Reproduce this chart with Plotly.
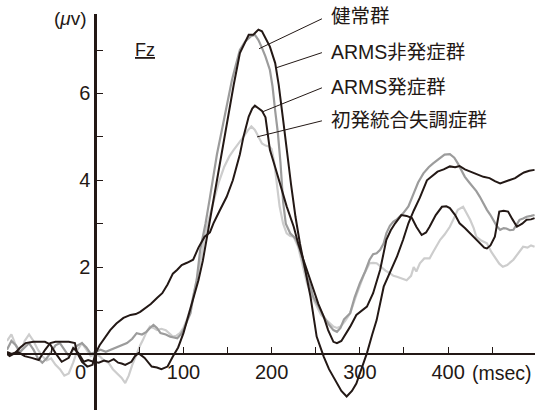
import plotly.graph_objects as go

INK = "#231815"

# ---------------- data (msec, microvolt) ----------------
nonconv_ms = [-100, -97, -91, -85, -79, -70, -62, -57, -51, -45, -38, -30, -25, -19, -13, -8, -2, 4, 10, 15,
              21, 26, 30, 34, 41, 45, 49, 56, 64, 70, 75, 82, 88, 94, 100, 106, 111, 117, 122, 128,
              134, 140, 145, 151, 157, 164, 170, 174, 179, 185, 189, 194, 198, 204, 208, 213, 217, 222, 227, 232,
              238, 244, 251, 259, 265, 272, 279, 285, 291, 296, 302, 308, 314, 319, 327, 332, 337, 342, 349, 355,
              361, 368, 376, 382, 388, 395, 402, 408, 413, 419, 425, 432, 440, 447, 453, 459, 465, 470, 476, 481,
              486, 492, 498]
nonconv_uv = [0.0, -0.05, 0.02, 0.15, 0.25, 0.28, 0.28, 0.28, 0.22, 0.02, -0.18, -0.09, 0.14, 0.02, -0.18, -0.14, -0.18, -0.2, -0.15, -0.18,
              -0.12, -0.2, -0.22, -0.25, -0.18, -0.05, 0.02, -0.09, -0.29, -0.31, -0.35, -0.29, -0.06, 0.15, 0.48, 0.9, 1.24, 1.7, 2.15, 2.85,
              3.55, 4.25, 4.85, 5.5, 6.2, 6.93, 7.2, 7.35, 7.35, 7.47, 7.43, 7.25, 7.08, 6.7, 6.2, 5.39, 4.7, 3.9, 3.16, 2.55,
              1.94, 1.32, 0.4, -0.06, -0.35, -0.6, -0.85, -0.98, -0.85, -0.68, -0.35, 0.02, 0.45, 0.78, 1.55, 1.78, 2.0, 2.24, 2.63, 3.01,
              3.3, 3.6, 4.0, 4.1, 4.2, 4.25, 4.32, 4.3, 4.33, 4.25, 4.2, 4.15, 4.08, 4.05, 3.98, 3.93, 3.97, 4.02, 4.05, 4.12,
              4.18, 4.22, 4.24]

conv_ms = [-100, -95, -88, -80, -72, -64, -57, -51, -45, -38, -30, -23, -21, -15, -9, -3, 0, 5, 10, 17,
           24, 32, 40, 46, 51, 57, 63, 70, 76, 82, 88, 93, 98, 104, 111, 117, 124, 130, 134, 141,
           149, 156, 164, 168, 174, 178, 181, 185, 189, 193, 198, 204, 210, 217, 225, 230, 236, 242, 247, 253,
           259, 264, 270, 274, 279, 284, 289, 296, 302, 308, 315, 319, 323, 330, 335, 340, 347, 353, 359, 364,
           370, 375, 379, 386, 393, 398, 402, 408, 413, 419, 425, 431, 436, 441, 444, 448, 453, 458, 463, 468,
           473, 478, 484, 489, 494, 498]
conv_uv = [0.05, 0.0, 0.05, -0.05, -0.09, -0.14, 0.09, 0.25, 0.28, 0.28, 0.28, 0.25, 0.05, -0.18, -0.29, -0.25, 0.0, 0.2, 0.35, 0.55,
           0.7, 0.83, 0.9, 0.92, 0.97, 1.05, 1.15, 1.29, 1.4, 1.6, 1.85, 1.94, 2.05, 2.1, 2.17, 2.45, 2.7, 2.8, 3.01, 3.3,
           3.62, 4.0, 4.6, 5.0, 5.47, 5.65, 5.72, 5.66, 5.6, 5.45, 4.7, 4.3, 3.9, 3.4, 2.93, 2.55, 2.17, 1.8, 1.47, 1.15,
           0.86, 0.55, 0.28, 0.25, 0.3, 0.45, 0.63, 0.9, 1.0, 1.09, 1.4, 1.65, 1.94, 2.63, 2.85, 3.01, 3.2, 3.18, 3.13, 2.93,
           2.74, 2.8, 2.93, 3.2, 3.39, 3.4, 3.36, 3.2, 3.01, 2.9, 2.78, 2.65, 2.55, 2.45, 2.43, 2.5, 2.7, 3.28, 3.3, 3.28,
           3.1, 2.93, 3.0, 3.09, 3.1, 3.13]

healthy_ms = [-100, -95, -90, -85, -80, -75, -70, -65, -60, -55, -50, -45, -40, -35, -30, -25, -20, -15, -10, -5,
              0, 6, 12, 17, 24, 30, 36, 42, 47, 53, 58, 62, 66, 70, 74, 80, 85, 89, 93, 97,
              100, 104, 108, 111, 115, 119, 122, 125, 130, 134, 138, 143, 149, 155, 160, 164, 170, 176, 181, 185,
              189, 193, 198, 201, 204, 207, 210, 213, 216, 221, 225, 228, 232, 236, 240, 244, 247, 253, 259, 264,
              270, 274, 278, 282, 289, 294, 300, 306, 311, 315, 319, 323, 327, 330, 334, 338, 342, 349, 355, 361,
              366, 372, 378, 383, 390, 396, 402, 407, 411, 415, 419, 424, 428, 432, 436, 440, 444, 448, 451, 455,
              459, 463, 466, 470, 474, 478, 481, 485, 489, 494, 498]
healthy_uv = [0.1, 0.3, 0.2, 0.05, 0.15, 0.25, 0.1, -0.1, -0.2, -0.1, 0.05, 0.2, 0.25, 0.1, -0.05, 0.1, 0.2, 0.25, 0.15, 0.0,
              0.05, 0.1, 0.05, 0.09, 0.15, 0.2, 0.25, 0.35, 0.48, 0.45, 0.51, 0.6, 0.67, 0.6, 0.48, 0.45, 0.4, 0.38, 0.36, 0.45,
              0.55, 0.75, 0.94, 1.3, 1.7, 2.4, 2.7, 3.0, 3.6, 4.1, 4.6, 5.1, 5.7, 6.31, 6.7, 7.0, 7.2, 7.31, 7.35, 7.23,
              7.05, 6.85, 6.54, 6.16, 5.6, 5.1, 4.4, 3.5, 3.0, 2.78, 2.7, 2.63, 2.4, 2.1, 1.78, 1.55, 1.32, 1.1, 0.86, 0.7,
              0.55, 0.51, 0.6, 0.8, 0.94, 1.3, 1.63, 1.9, 2.17, 2.3, 2.32, 2.4, 2.55, 2.78, 2.95, 3.05, 3.1, 3.24, 3.4, 3.7,
              3.95, 4.16, 4.3, 4.39, 4.5, 4.59, 4.6, 4.52, 4.39, 4.25, 4.08, 3.95, 3.85, 3.75, 3.62, 3.45, 3.32, 3.2, 3.09, 2.95,
              2.86, 2.9, 2.89, 2.85, 2.86, 3.0, 3.09, 3.12, 3.16, 3.18, 3.2]

firstep_ms = [-100, -95, -90, -85, -80, -75, -70, -65, -60, -55, -50, -45, -40, -35, -30, -25, -20, -15, -10, -5,
              0, 5, 10, 15, 20, 25, 30, 34, 38, 42, 47, 51, 54, 58, 62, 66, 70, 75, 80, 84,
              88, 92, 96, 100, 104, 108, 112, 116, 120, 125, 130, 135, 140, 146, 152, 157, 163, 168, 173, 177,
              181, 185, 189, 193, 197, 200, 203, 206, 209, 213, 217, 221, 225, 230, 235, 240, 245, 251, 256, 262,
              266, 270, 274, 278, 283, 289, 295, 300, 305, 311, 315, 319, 324, 329, 334, 338, 342, 347, 353, 358,
              361, 364, 368, 373, 379, 383, 387, 391, 396, 402, 406, 411, 417, 421, 425, 429, 432, 437, 444, 449,
              455, 458, 462, 467, 474, 479, 485, 490, 494, 498]
firstep_uv = [0.3, 0.45, 0.2, 0.0, 0.3, 0.45, 0.3, 0.1, -0.05, -0.15, -0.1, -0.25, -0.35, -0.5, -0.45, -0.2, 0.1, 0.25, 0.1, -0.05,
              0.0, -0.05, -0.15, -0.2, -0.35, -0.45, -0.55, -0.67, -0.5, -0.25, 0.02, 0.2, 0.32, 0.5, 0.63, 0.6, 0.55, 0.58, 0.55, 0.48,
              0.4, 0.42, 0.48, 0.6, 0.8, 1.05, 1.4, 1.8, 2.2, 2.8, 3.2, 3.6, 3.95, 4.3, 4.55, 4.7, 4.85, 5.0, 5.15, 5.24,
              5.16, 5.0, 4.85, 4.8, 4.78, 4.72, 4.4, 3.9, 3.4, 3.0, 2.78, 2.72, 2.7, 2.47, 2.05, 1.63, 1.35, 1.09, 0.9, 0.78,
              0.7, 0.63, 0.6, 0.63, 0.75, 0.94, 1.3, 1.6, 1.85, 2.09, 2.1, 2.09, 2.0, 1.92, 1.86, 1.8, 1.78, 1.75, 1.7, 1.8,
              2.0, 1.9, 2.09, 2.2, 2.2, 2.35, 2.5, 2.63, 2.75, 2.93, 3.1, 3.32, 3.39, 3.25, 3.09, 2.9, 2.7, 2.62, 2.55, 2.35,
              2.17, 2.08, 2.01, 2.05, 2.17, 2.3, 2.47, 2.45, 2.5, 2.47]

group_labels = ["健常群", "ARMS非発症群", "ARMS発症群", "初発統合失調症群"]
x_tick_vals = [-50, 50, 100, 150, 200, 250, 300, 350, 400, 450]
x_tick_text = ["", "", "100", "", "200", "", "300", "", "400", ""]
y_tick_vals = [1, 2, 3, 4, 5, 6, 7]
y_tick_text = ["", "2", "", "4", "", "6", ""]

X_RANGE = [-100, 498.5]
Y_RANGE = [-1.29, 7.83]

fig = go.Figure()
fig.add_trace(go.Scatter(x=firstep_ms, y=firstep_uv, mode="lines", name=group_labels[3],
                         line=dict(color="#cdcdcd", width=2.2)))
fig.add_trace(go.Scatter(x=healthy_ms, y=healthy_uv, mode="lines", name=group_labels[0],
                         line=dict(color="#9c9c9c", width=2.2)))
fig.add_trace(go.Scatter(x=conv_ms, y=conv_uv, mode="lines", name=group_labels[2],
                         line=dict(color=INK, width=2)))
fig.add_trace(go.Scatter(x=nonconv_ms, y=nonconv_uv, mode="lines", name=group_labels[1],
                         line=dict(color=INK, width=2)))

# leader lines (label -> curve)
leaders = [((185.7, 7.03), (257, 7.72)),
           ((205, 6.59), (257, 6.94)),
           ((190, 5.58), (257, 6.13)),
           ((183.5, 5.0), (257, 5.37))]
for (x0, y0), (x1, y1) in leaders:
    fig.add_shape(type="line", xref="x", yref="y", x0=x0, y0=y0, x1=x1, y1=y1,
                  line=dict(color=INK, width=1))

label_y = [7.79, 6.96, 6.15, 5.39]
for txt, yy in zip(group_labels, label_y):
    fig.add_annotation(x=265, y=yy, xref="x", yref="y", text=txt, showarrow=False,
                       xanchor="left", yanchor="middle", font=dict(size=19.5, color=INK))

fig.add_annotation(x=-28, y=7.73, xref="x", yref="y", text="(<i>μ</i>v)", showarrow=False,
                   xanchor="center", yanchor="middle", font=dict(size=19, color=INK))
fig.add_annotation(x=56.5, y=7.0, xref="x", yref="y", text="<u>Fz</u>", showarrow=False,
                   xanchor="center", yanchor="middle", font=dict(size=18, color=INK))
fig.add_annotation(x=-16.5, y=-0.42, xref="x", yref="y", text="0", showarrow=False,
                   xanchor="center", yanchor="middle", font=dict(size=20, color=INK))
fig.add_annotation(x=461, y=-0.44, xref="x", yref="y", text="(msec)", showarrow=False,
                   xanchor="center", yanchor="middle", font=dict(size=19.5, color=INK))

fig.update_layout(
    width=535, height=412,
    margin=dict(l=7, r=0, t=14, b=2, autoexpand=False),
    paper_bgcolor="white", plot_bgcolor="white",
    showlegend=False,
    font=dict(family="Liberation Sans, Arial, Noto Sans CJK JP", color=INK, size=20),
    xaxis=dict(range=X_RANGE, anchor="free", automargin=False,
               position=(0 - Y_RANGE[0]) / (Y_RANGE[1] - Y_RANGE[0]),
               showline=True, linecolor=INK, linewidth=2,
               ticks="inside", ticklen=6, tickwidth=1.2, tickcolor=INK,
               tickmode="array", tickvals=x_tick_vals, ticktext=x_tick_text,
               tickfont=dict(size=20, color=INK),
               showgrid=False, zeroline=False),
    yaxis=dict(range=Y_RANGE, anchor="free", automargin=False,
               position=(0 - X_RANGE[0]) / (X_RANGE[1] - X_RANGE[0]),
               showline=True, linecolor=INK, linewidth=2.5,
               ticks="inside", ticklen=6, tickwidth=1.2, tickcolor=INK,
               tickmode="array", tickvals=y_tick_vals, ticktext=y_tick_text,
               tickfont=dict(size=20, color=INK),
               showgrid=False, zeroline=False),
)

fig.write_html("out.html",
               config={"displayModeBar": False},
               post_script="document.body.style.margin='0';document.body.style.padding='0';")
